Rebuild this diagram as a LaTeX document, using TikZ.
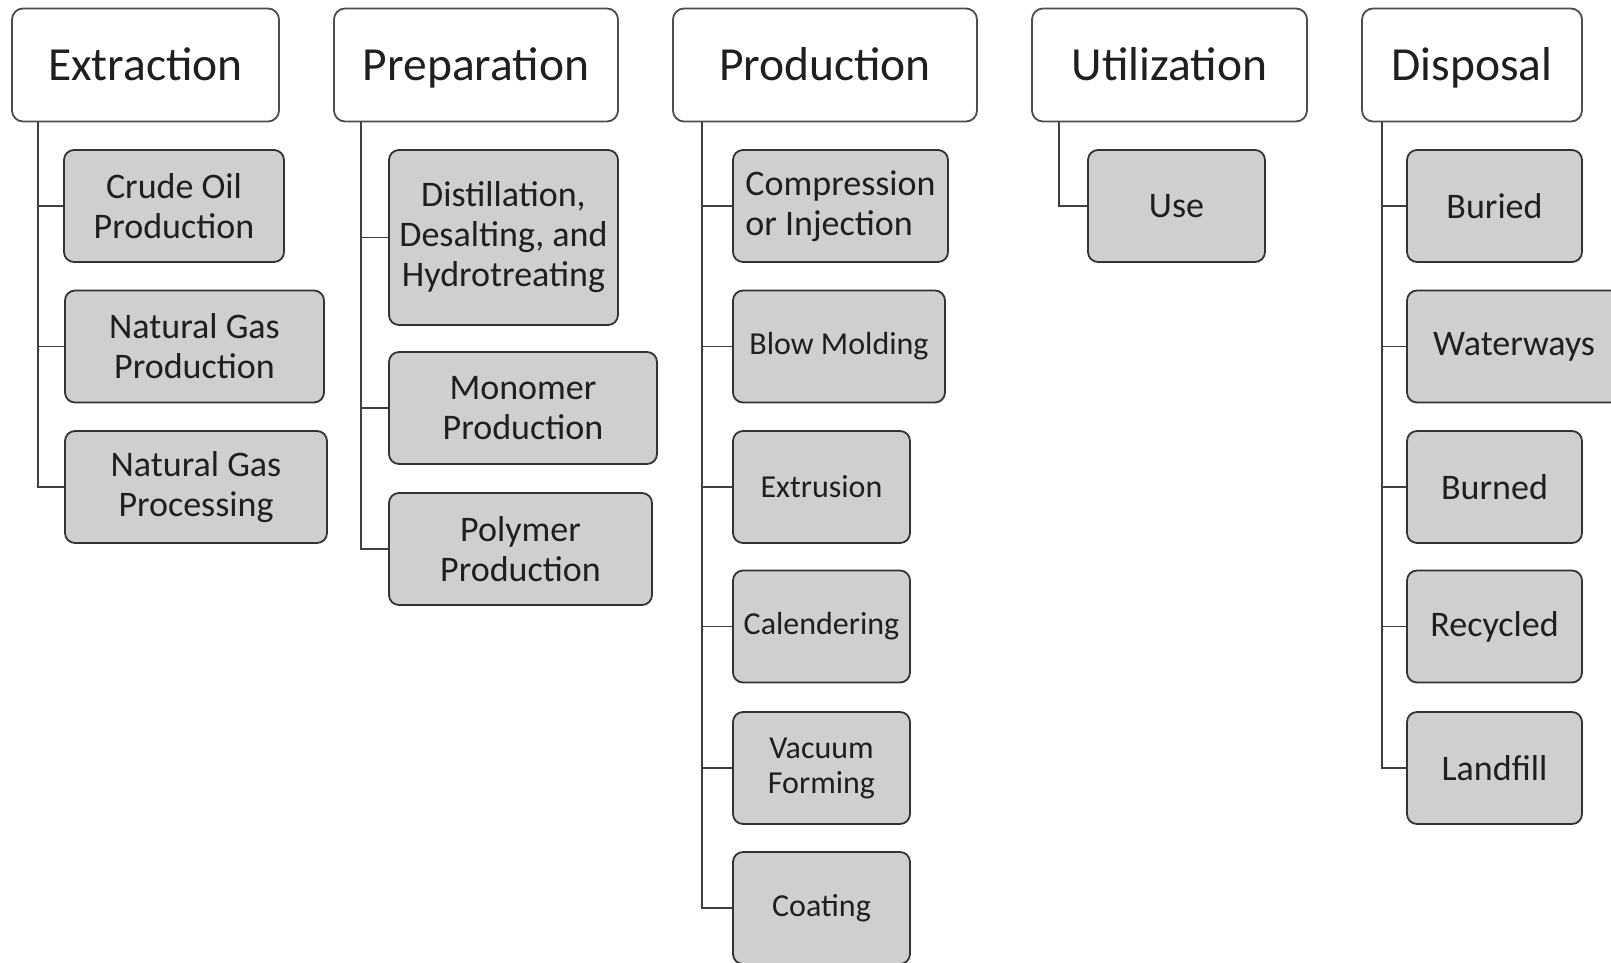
\documentclass[tikz,border=0pt]{standalone}
\usepackage{fontspec}
\setmainfont{Carlito}
\usepackage{xcolor}
\usepackage{tikz}
\usetikzlibrary{arrows.meta}

\begin{document}
\begin{tikzpicture}[x=1pt,y=-1pt]
    \tikzstyle{head} = [draw=black!70,line width=1.8pt,fill=white,rounded corners=11pt,minimum height=113pt,inner sep=0pt,text height=30.5pt,text depth=0pt,text=black!88,font=\fontsize{47.5}{54}\selectfont]
    \tikzstyle{leaf} = [draw=black!80,line width=1.8pt,fill=black!19,rounded corners=10pt,minimum height=112pt,inner sep=0pt,align=center,text=black!88,font=\fontsize{36}{40}\selectfont]
    \tikzstyle{leafs} = [leaf,font=\fontsize{32}{35}\selectfont]
    \tikzstyle{link} = [draw=black!75,line width=1.8pt]
    \useasboundingbox (0,0) rectangle (1611,962);

    % Extraction
    \node[head,minimum width=267pt] (ext) at (145.5,65) {Extraction};
    \node[leaf,minimum width=220pt] (ext1) at (174,206) {Crude Oil\\Production};
    \node[leaf,minimum width=259pt] (ext2) at (194.5,346.5) {Natural Gas\\Production};
    \node[leaf,minimum width=262pt] (ext3) at (196,487) {Natural Gas\\Processing};
    \foreach \c in {ext1,ext2,ext3}
        \draw[link] ([xshift=27pt]ext.south west) |- (\c.west);

    % Preparation
    \node[head,minimum width=284pt] (prep) at (476,65) {Preparation};
    \node[leaf,minimum width=229pt,minimum height=175pt] (prep1) at (503.5,237.5) {Distillation,\\Desalting, and\\Hydrotreating};
    \node[leaf,minimum width=268pt] (prep2) at (523,408) {Monomer\\Production};
    \node[leaf,minimum width=263pt] (prep3) at (520.5,549) {Polymer\\Production};
    \foreach \c in {prep1,prep2,prep3}
        \draw[link] ([xshift=28pt]prep.south west) |- (\c.west);

    % Production
    \node[head,minimum width=304pt] (prod) at (825,65) {Production};
    \node[leaf,align=left,minimum width=215pt] (prod1) at (840.5,206) {Compression\\or Injection};
    \node[leafs,minimum width=212pt] (prod2) at (839,346.5) {Blow Molding};
    \node[leafs,minimum width=177pt] (prod3) at (821.5,487) {Extrusion};
    \node[leafs,minimum width=177pt] (prod4) at (821.5,626.5) {Calendering};
    \node[leafs,minimum width=177pt] (prod5) at (821.5,768) {Vacuum\\Forming};
    \node[leafs,minimum width=177pt] (prod6) at (821.5,908) {Coating};
    \foreach \c in {prod1,prod2,prod3,prod4,prod5,prod6}
        \draw[link] ([xshift=30pt]prod.south west) |- (\c.west);

    % Utilization
    \node[head,minimum width=275pt] (util) at (1169.5,65) {Utilization};
    \node[leaf,minimum width=177pt] (util1) at (1176.5,206) {Use};
    \draw[link] ([xshift=28pt]util.south west) |- (util1.west);

    % Disposal
    \node[head,minimum width=220pt] (disp) at (1472,65) {Disposal};
    \node[leaf,minimum width=175pt] (disp1) at (1494.5,206) {Buried};
    \node[leaf,minimum width=214pt] (disp2) at (1514,346.5) {Waterways};
    \node[leaf,minimum width=175pt] (disp3) at (1494.5,487) {Burned};
    \node[leaf,minimum width=175pt] (disp4) at (1494.5,626.5) {Recycled};
    \node[leaf,minimum width=175pt] (disp5) at (1494.5,768) {Landfill};
    \foreach \c in {disp1,disp2,disp3,disp4,disp5}
        \draw[link] ([xshift=21pt]disp.south west) |- (\c.west);
\end{tikzpicture}
\end{document}
